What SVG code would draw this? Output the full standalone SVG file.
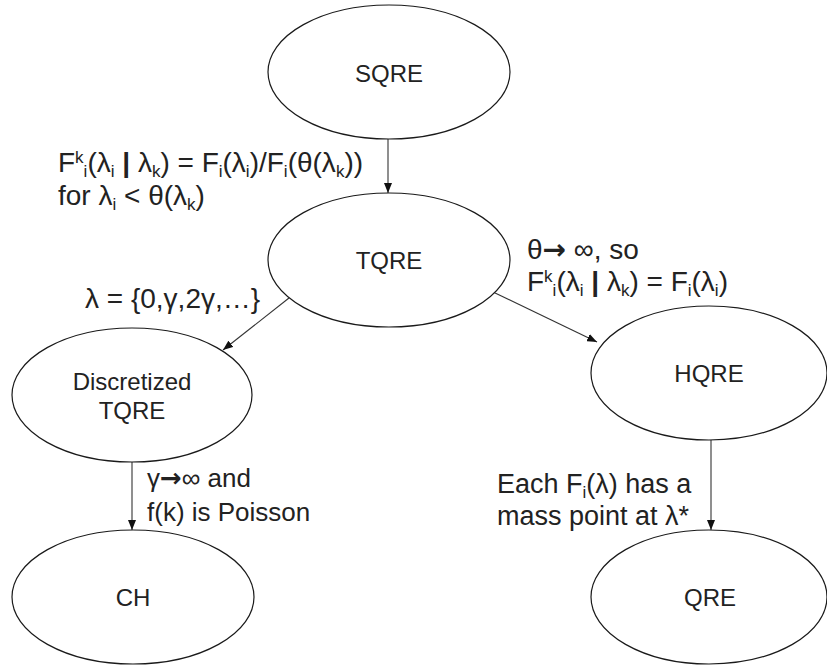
<svg xmlns="http://www.w3.org/2000/svg" width="827" height="668" viewBox="0 0 827 668">
  <style>
    .node ellipse { fill: #ffffff; stroke: #1a1a1a; stroke-width: 1.2; }
    .lbl { font-family: "Liberation Sans", Arial, sans-serif; font-size: 24px; fill: #222222; text-anchor: middle; }
    .ann { font-family: "Liberation Sans", Arial, sans-serif; font-size: 28px; fill: #222222; }
    .small { font-size: 26px; }
    .mid { font-size: 27px; }
    .sb { font-size: 17px; baseline-shift: -5px; }
    .sp { font-size: 17px; baseline-shift: 9px; }
    .arr { font-family: "DejaVu Sans", sans-serif; font-weight: bold; }
    .edge { stroke: #333333; stroke-width: 1.1; fill: none; marker-end: url(#arrow); }
  </style>
  <defs>
    <marker id="arrow" markerUnits="userSpaceOnUse" markerWidth="10" markerHeight="8" refX="10" refY="4" orient="auto">
      <path d="M0,0 L10,4 L0,8 z" fill="#111111"/>
    </marker>
  </defs>
  <rect width="827" height="668" fill="#ffffff"/>

  <g id="connectors">
    <line class="edge" x1="388" y1="139" x2="388" y2="193"/>
    <line class="edge" x1="289" y1="298" x2="223" y2="350"/>
    <line class="edge" x1="493" y1="292" x2="597" y2="342"/>
    <line class="edge" x1="132" y1="462" x2="132" y2="530"/>
    <line class="edge" x1="711" y1="440" x2="711" y2="530"/>
  </g>

  <g id="sqre" class="node">
    <ellipse cx="389" cy="72" rx="121" ry="67"/>
    <text class="lbl" x="389" y="82">SQRE</text>
  </g>
  <g id="tqre" class="node">
    <ellipse cx="389" cy="260" rx="121" ry="67"/>
    <text class="lbl" x="389" y="269">TQRE</text>
  </g>
  <g id="discretized-tqre" class="node">
    <ellipse cx="132" cy="395" rx="120" ry="67"/>
    <text class="lbl" x="132" y="390">Discretized</text>
    <text class="lbl" x="132" y="419">TQRE</text>
  </g>
  <g id="hqre" class="node">
    <ellipse cx="709" cy="373" rx="118" ry="67"/>
    <text class="lbl" x="709" y="382">HQRE</text>
  </g>
  <g id="ch" class="node">
    <ellipse cx="133" cy="597" rx="121" ry="67"/>
    <text class="lbl" x="133" y="606">CH</text>
  </g>
  <g id="qre" class="node">
    <ellipse cx="709" cy="597" rx="118" ry="67"/>
    <text class="lbl" x="710" y="606">QRE</text>
  </g>

  <g id="edge-labels">
    <text class="ann" x="58" y="172">F<tspan class="sp">k</tspan><tspan class="sb">i</tspan>(λ<tspan class="sb">i</tspan> <tspan font-weight="bold">|</tspan> λ<tspan class="sb">k</tspan>) = F<tspan class="sb">i</tspan>(λ<tspan class="sb">i</tspan>)/F<tspan class="sb">i</tspan>(θ(λ<tspan class="sb">k</tspan>))</text>
    <text class="ann" x="58" y="205">for λ<tspan class="sb">i</tspan> &lt; θ(λ<tspan class="sb">k</tspan>)</text>

    <text class="ann" x="527" y="259">θ<tspan class="arr">→</tspan> ∞, so</text>
    <text class="ann" x="527" y="291">F<tspan class="sp">k</tspan><tspan class="sb">i</tspan>(λ<tspan class="sb">i</tspan> <tspan font-weight="bold">|</tspan> λ<tspan class="sb">k</tspan>) = F<tspan class="sb">i</tspan>(λ<tspan class="sb">i</tspan>)</text>

    <text class="ann" x="85" y="308">λ = {0,γ,2γ,…}</text>

    <text class="ann small" x="147" y="487">γ<tspan class="arr">→</tspan>∞ and</text>
    <text class="ann small" x="147" y="521">f(k) is Poisson</text>

    <text class="ann mid" x="497" y="493">Each F<tspan class="sb">i</tspan>(λ) has a</text>
    <text class="ann mid" x="497" y="525">mass point at λ*</text>
  </g>
</svg>
